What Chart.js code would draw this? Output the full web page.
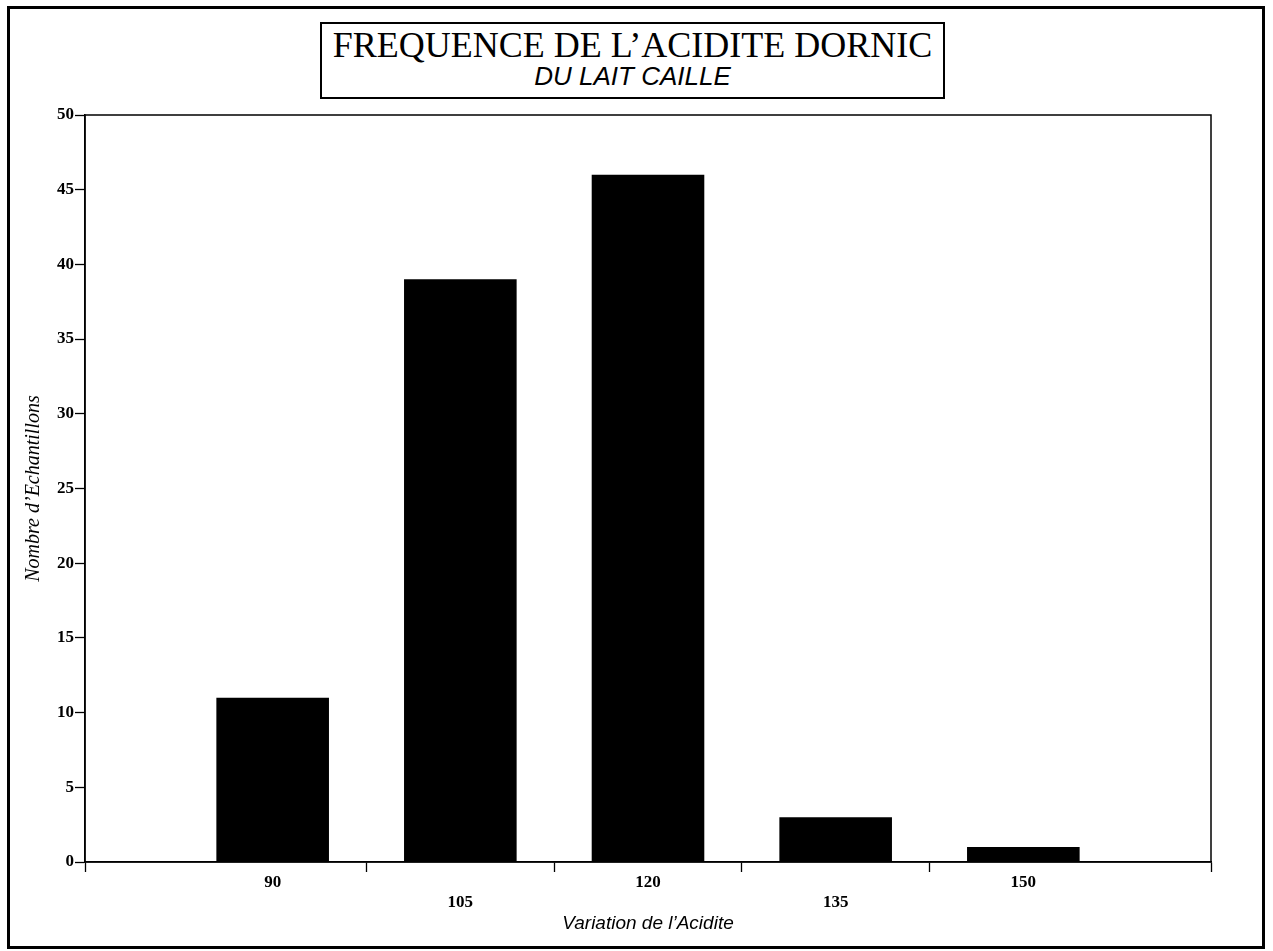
<!DOCTYPE html>
<html>
<head>
<meta charset="utf-8">
<title>Fréquence de l'acidité Dornic</title>
<script src="https://cdn.jsdelivr.net/npm/chart.js@4/dist/chart.umd.min.js"></script>
<style>
  html, body { margin: 0; padding: 0; background: #fff; }
  #wrap { position: relative; width: 1273px; height: 951px; overflow: hidden; }
  #GraficoAcidite { position: absolute; left: 0; top: 0; }
  #cadre {
    position: absolute; left: 7px; top: 6px; width: 1252px; height: 937px;
    border: 3px solid #000; pointer-events: none;
  }
  #titre {
    position: absolute; left: 320px; top: 22px; width: 621px; height: 73px;
    border: 2px solid #000; text-align: center; background: #fff;
  }
  #titre .l1 {
    font-family: "Liberation Serif", "Times New Roman", serif;
    font-size: 36px; line-height: 38px; margin-top: 2px; color: #000;
  }
  #titre .l2 {
    font-family: "Liberation Sans", Arial, sans-serif;
    font-style: italic; font-size: 26px; line-height: 28px; margin-top: -2px; color: #000;
  }
</style>
</head>
<body>
<div id="wrap">
  <canvas id="GraficoAcidite" width="1273" height="951"></canvas>
  <div id="cadre"></div>
  <div id="titre">
    <div class="l1">FREQUENCE DE L’ACIDITE DORNIC</div>
    <div class="l2">DU LAIT CAILLE</div>
  </div>
</div>
<script>
const categories = [90, 105, 120, 135, 150];
const echantillons = [11, 39, 46, 3, 1];
const yTicks = [0, 5, 10, 15, 20, 25, 30, 35, 40, 45, 50];
// marques de graduation entre les barres (et aux bords)
const xTickMarks = [75, 97.5, 112.5, 127.5, 142.5, 165];

const xMin = 75;
const xMax = 165;

const fontTicks = { family: "'Liberation Serif', 'Times New Roman', serif", size: 17, weight: 'bold', lineHeight: 1.2 };

// cadre autour de la zone du graphique
const cadrePlugin = {
  id: 'cadre',
  afterDraw(chart) {
    const { ctx, chartArea } = chart;
    ctx.save();
    ctx.strokeStyle = '#000';
    ctx.lineWidth = 1.5;
    ctx.strokeRect(chartArea.left, chartArea.top, chartArea.right - chartArea.left, chartArea.bottom - chartArea.top);
    ctx.restore();
  }
};

function criarGrafico() {
  const ctx = document.getElementById('GraficoAcidite').getContext('2d');

  const points = categories.map((c, i) => ({ x: c, y: echantillons[i] }));
  const allTicks = xTickMarks.concat(categories).sort((a, b) => a - b);

  window.GraficoAcidite = new Chart(ctx, {
    type: 'bar',
    data: {
      datasets: [
        {
          label: "Nombre d'Echantillons",
          data: points,
          backgroundColor: '#000',
          borderColor: '#000',
          borderWidth: 0,
          // la largeur de base est l'écart entre deux graduations (7.5)
          barPercentage: 1.2,
          categoryPercentage: 1.0,
        }
      ]
    },
    options: {
      responsive: false,
      animation: false,
      layout: {
        padding: { left: 10, top: 115, right: 62, bottom: 4 }
      },
      plugins: {
        legend: { display: false },
        tooltip: { enabled: false }
      },
      scales: {
        x: {
          type: 'linear',
          min: xMin,
          max: xMax,
          offset: false,
          afterBuildTicks: (scale) => {
            scale.ticks = allTicks.map(v => ({ value: v }));
          },
          afterFit: (scale) => { scale.height = 85; },
          ticks: {
            autoSkip: false,
            maxRotation: 0,
            minRotation: 0,
            padding: 0,
            color: '#000',
            font: fontTicks,
            callback: (value) => {
              const idx = categories.indexOf(value);
              if (idx < 0) return '';
              return idx % 2 === 1 ? ['', String(value)] : String(value);
            }
          },
          grid: {
            offset: false,
            drawOnChartArea: false,
            drawTicks: true,
            tickLength: 10,
            tickWidth: 1.3,
            tickColor: (c) => (c.tick && categories.includes(c.tick.value)) ? 'rgba(0,0,0,0)' : '#000'
          },
          border: { display: true, color: '#000', width: 1.5 },
          title: {
            display: true,
            text: "Variation de l’Acidite",
            color: '#000',
            font: { family: "'Liberation Sans', Arial, sans-serif", size: 19, style: 'italic' },
            padding: { top: 0, bottom: 12 }
          }
        },
        y: {
          min: 0,
          max: 50,
          afterBuildTicks: (scale) => {
            scale.ticks = yTicks.map(v => ({ value: v }));
          },
          afterFit: (scale) => { scale.width = 75; },
          ticks: {
            padding: 1,
            color: '#000',
            font: fontTicks
          },
          grid: {
            drawOnChartArea: false,
            drawTicks: true,
            tickLength: 10,
            tickWidth: 1.3,
            tickColor: '#000'
          },
          border: { display: true, color: '#000', width: 1.5 },
          title: {
            display: true,
            text: "Nombre d’Echantillons",
            color: '#000',
            font: { family: "'Liberation Serif', 'Times New Roman', serif", size: 20, style: 'italic' },
            padding: { top: 12, bottom: 0 }
          }
        }
      }
    },
    plugins: [cadrePlugin]
  });
}

document.addEventListener("DOMContentLoaded", function () {
  criarGrafico();
});
</script>
</body>
</html>
